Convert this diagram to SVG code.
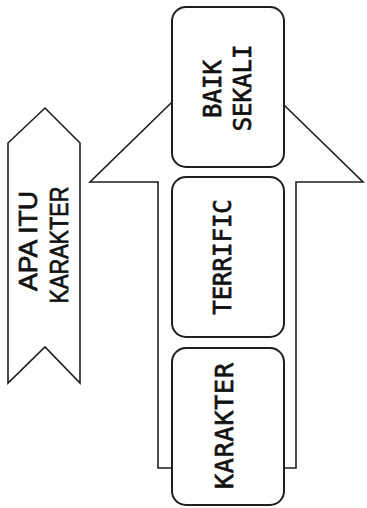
<svg xmlns="http://www.w3.org/2000/svg" width="367" height="508" viewBox="0 0 367 508">
<style>
.shape{fill:#fff;stroke:#1e1e1e;stroke-width:1.6;stroke-linejoin:miter}
.box{fill:#fff;stroke:#1e1e1e;stroke-width:2}
.mono{font-family:"DejaVu Sans Mono","Liberation Mono",monospace;font-size:24px;fill:#111;stroke:#111;stroke-width:0.7}
.sans{font-family:"Liberation Sans",Arial,sans-serif;font-size:25px;fill:#111;stroke:#111;stroke-width:0.7}
</style>
<rect width="367" height="508" fill="#fff"/>
<g id="banner">
<polygon class="shape" points="8,143 45,108 80,143 80,383 45,347 8,383"/>
<text class="sans" text-anchor="middle" transform="translate(37,241) rotate(-90)" textLength="100" lengthAdjust="spacingAndGlyphs">APA ITU</text>
<text class="sans" text-anchor="middle" transform="translate(68,245) rotate(-90)" textLength="117" lengthAdjust="spacingAndGlyphs">KARAKTER</text>
</g>
<g id="connectors">
<polygon class="shape" points="158,468 158,182 90,182 226.5,49 363,182 296,182 296,468"/>
</g>
<g id="node-baik-sekali">
<rect class="box" x="172" y="7" width="112" height="160" rx="14"/>
<text class="mono" text-anchor="middle" transform="translate(221,89) rotate(-90)">BAIK</text>
<text class="mono" text-anchor="middle" transform="translate(251,88) rotate(-90)">SEKALI</text>
</g>
<g id="node-terrific">
<rect class="box" x="172" y="177" width="112" height="160" rx="14"/>
<text class="mono" text-anchor="middle" transform="translate(231,257) rotate(-90)">TERRIFIC</text>
</g>
<g id="node-karakter">
<rect class="box" x="172" y="348" width="112" height="157" rx="14"/>
<text class="mono" text-anchor="middle" transform="translate(233,426) rotate(-90)" style="font-size:25px" textLength="126">KARAKTER</text>
</g>
</svg>
